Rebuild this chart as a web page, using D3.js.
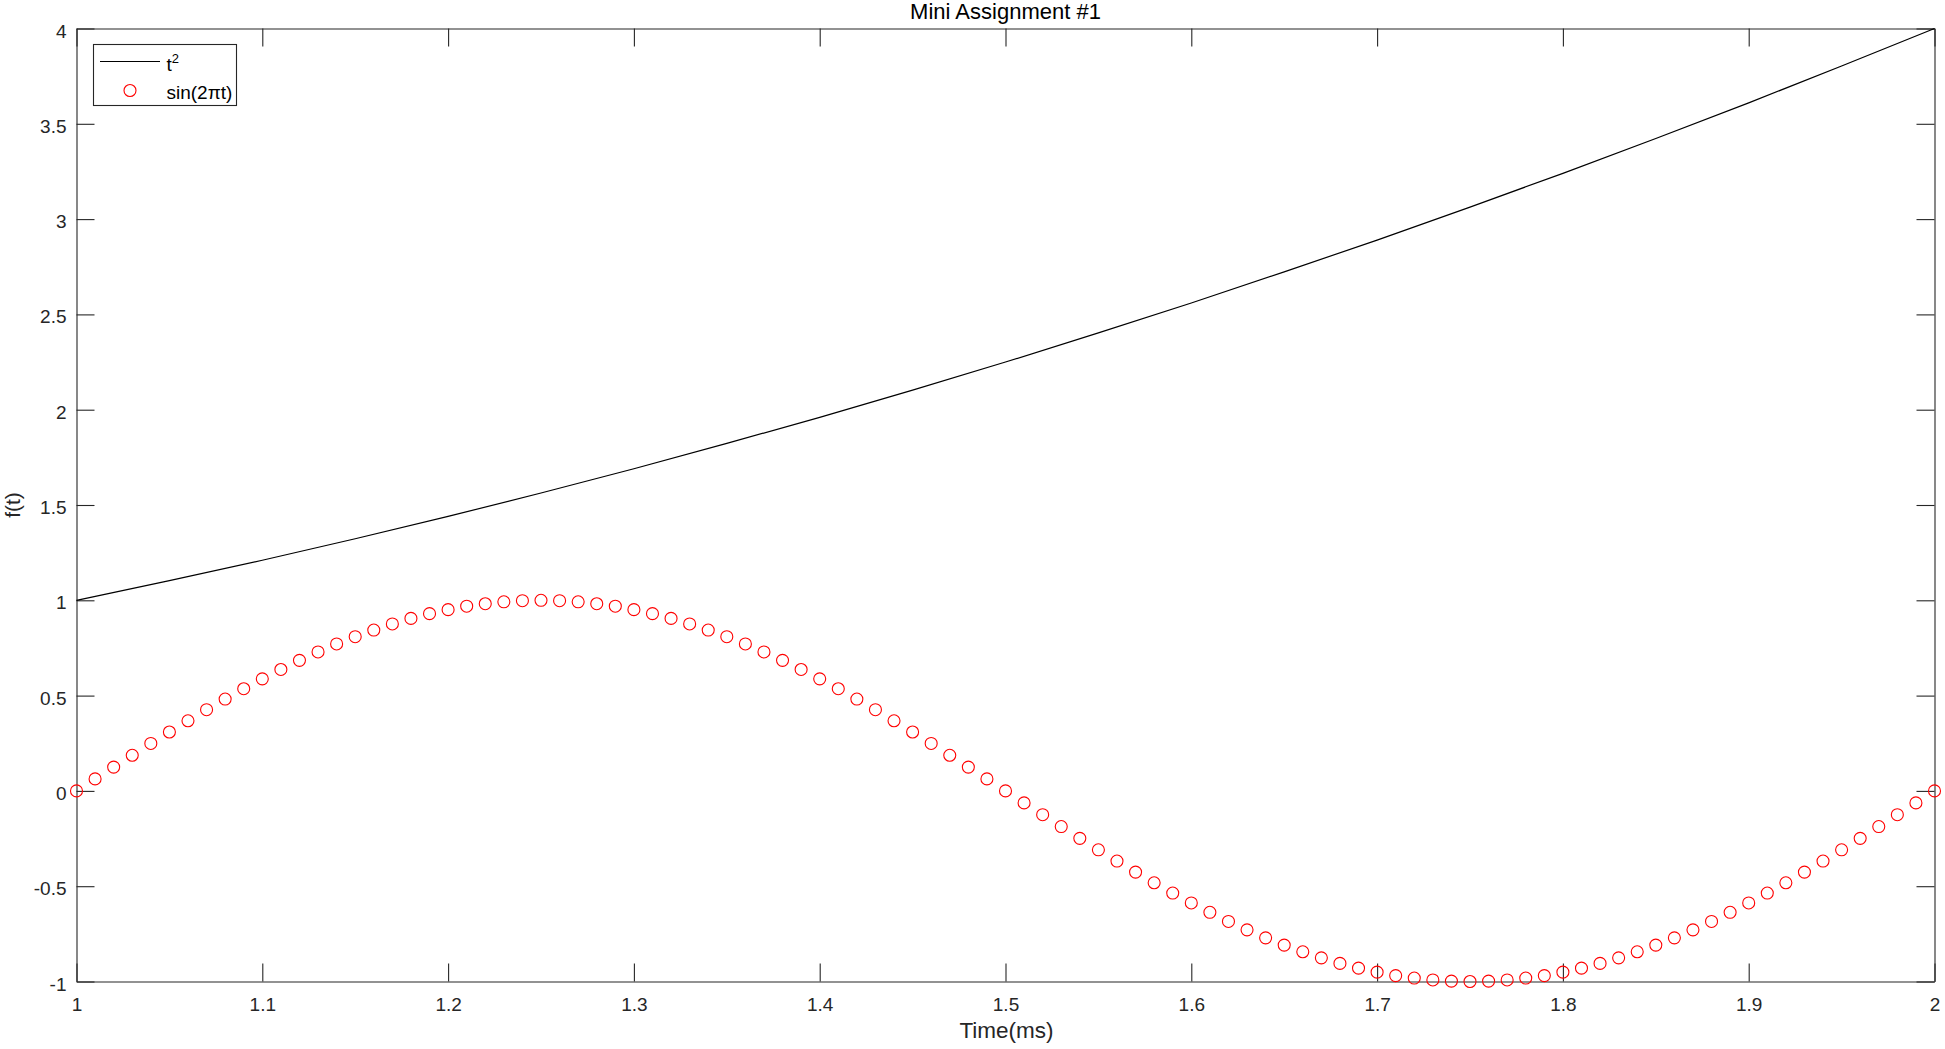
<!DOCTYPE html>
<html>
<head>
<meta charset="utf-8">
<script src="https://cdn.jsdelivr.net/npm/d3@7"></script>
<style>
  html, body { margin: 0; padding: 0; background: #fff; }
  svg { display: block; font-family: "Liberation Sans", Arial, Helvetica, sans-serif; }
</style>
</head>
<body>
<svg id="chart" width="1945" height="1049"></svg>
<script>
// ---- Data ----
const title = "Mini Assignment #1";
const xLabel = "Time(ms)";
const yLabel = "f(t)";
const xTicks = [1, 1.1, 1.2, 1.3, 1.4, 1.5, 1.6, 1.7, 1.8, 1.9, 2];
const yTicks = [-1, -0.5, 0, 0.5, 1, 1.5, 2, 2.5, 3, 3.5, 4];

// t^2 line samples
const lineT = [1.00, 1.05, 1.10, 1.15, 1.20, 1.25, 1.30, 1.35, 1.40, 1.45, 1.50,
               1.55, 1.60, 1.65, 1.70, 1.75, 1.80, 1.85, 1.90, 1.95, 2.00];
const lineY = [1.000, 1.103, 1.210, 1.323, 1.440, 1.563, 1.690, 1.823, 1.960, 2.103, 2.250,
               2.403, 2.560, 2.723, 2.890, 3.063, 3.240, 3.423, 3.610, 3.803, 4.000];

// sin(2πt) marker samples
const markT = [1.00, 1.01, 1.02, 1.03, 1.04, 1.05, 1.06, 1.07, 1.08, 1.09,
               1.10, 1.11, 1.12, 1.13, 1.14, 1.15, 1.16, 1.17, 1.18, 1.19,
               1.20, 1.21, 1.22, 1.23, 1.24, 1.25, 1.26, 1.27, 1.28, 1.29,
               1.30, 1.31, 1.32, 1.33, 1.34, 1.35, 1.36, 1.37, 1.38, 1.39,
               1.40, 1.41, 1.42, 1.43, 1.44, 1.45, 1.46, 1.47, 1.48, 1.49,
               1.50, 1.51, 1.52, 1.53, 1.54, 1.55, 1.56, 1.57, 1.58, 1.59,
               1.60, 1.61, 1.62, 1.63, 1.64, 1.65, 1.66, 1.67, 1.68, 1.69,
               1.70, 1.71, 1.72, 1.73, 1.74, 1.75, 1.76, 1.77, 1.78, 1.79,
               1.80, 1.81, 1.82, 1.83, 1.84, 1.85, 1.86, 1.87, 1.88, 1.89,
               1.90, 1.91, 1.92, 1.93, 1.94, 1.95, 1.96, 1.97, 1.98, 1.99, 2.00];
const markY = [0.000, 0.063, 0.125, 0.187, 0.249, 0.309, 0.368, 0.426, 0.482, 0.536,
               0.588, 0.637, 0.685, 0.729, 0.771, 0.809, 0.844, 0.876, 0.905, 0.930,
               0.951, 0.969, 0.982, 0.992, 0.998, 1.000, 0.998, 0.992, 0.982, 0.969,
               0.951, 0.930, 0.905, 0.876, 0.844, 0.809, 0.771, 0.729, 0.685, 0.637,
               0.588, 0.536, 0.482, 0.426, 0.368, 0.309, 0.249, 0.187, 0.125, 0.063,
               0.000, -0.063, -0.125, -0.187, -0.249, -0.309, -0.368, -0.426, -0.482, -0.536,
               -0.588, -0.637, -0.685, -0.729, -0.771, -0.809, -0.844, -0.876, -0.905, -0.930,
               -0.951, -0.969, -0.982, -0.992, -0.998, -1.000, -0.998, -0.992, -0.982, -0.969,
               -0.951, -0.930, -0.905, -0.876, -0.844, -0.809, -0.771, -0.729, -0.685, -0.637,
               -0.588, -0.536, -0.482, -0.426, -0.368, -0.309, -0.249, -0.187, -0.125, -0.063, 0.000];

const legendLabels = ["t", "sin(2\u03C0t)"];

// ---- Layout ----
const svg = d3.select("#chart");
const L = 76.5, R = 1934.5, T = 28.5, B = 981.5;
const axisColor = "#262626";
const tickLen = 18;

const x = d3.scaleLinear().domain([1, 2]).range([L, R]);
const y = d3.scaleLinear().domain([-1, 4]).range([B, T]);

svg.append("rect").attr("width", 1945).attr("height", 1049).attr("fill", "#fff");

const fmt = d => String(d);

// Bottom axis with labels, ticks inward
const gx = svg.append("g").attr("transform", `translate(0,${B})`)
  .call(d3.axisBottom(x).tickValues(xTicks).tickFormat(fmt)
        .tickSizeInner(-tickLen).tickSizeOuter(0).tickPadding(16));
// Left axis
const gy = svg.append("g").attr("transform", `translate(${L},0)`)
  .call(d3.axisLeft(y).tickValues(yTicks).tickFormat(fmt)
        .tickSizeInner(-tickLen).tickSizeOuter(0).tickPadding(10));
// Top axis (ticks only)
const gt = svg.append("g").attr("transform", `translate(0,${T})`)
  .call(d3.axisTop(x).tickValues(xTicks).tickFormat(() => "")
        .tickSizeInner(-tickLen).tickSizeOuter(0));
// Right axis (ticks only)
const gr = svg.append("g").attr("transform", `translate(${R},0)`)
  .call(d3.axisRight(y).tickValues(yTicks).tickFormat(() => "")
        .tickSizeInner(-tickLen).tickSizeOuter(0));

[gx, gy, gt, gr].forEach(g => {
  g.selectAll(".domain").attr("stroke", axisColor).attr("stroke-width", 1.1);
  g.selectAll(".tick line").attr("stroke", axisColor).attr("stroke-width", 1.1);
  g.selectAll(".tick text").attr("fill", axisColor)
    .style("font-size", "19px").style("font-family", "'Liberation Sans', Arial, sans-serif");
});
gy.selectAll(".tick text").attr("dy", "0.45em");

// t^2 line
const line = d3.line().x((d, i) => x(lineT[i])).y(d => y(d));
svg.append("path").datum(lineY)
  .attr("d", line)
  .attr("fill", "none").attr("stroke", "#000").attr("stroke-width", 1.2);

// sin markers
svg.append("g").selectAll("circle").data(markY).join("circle")
  .attr("cx", (d, i) => x(markT[i]))
  .attr("cy", d => y(d))
  .attr("r", 6)
  .attr("fill", "none").attr("stroke", "#ff0000").attr("stroke-width", 1.1);

// Title
svg.append("text").attr("x", (L + R) / 2).attr("y", 19)
  .attr("text-anchor", "middle").attr("fill", "#000")
  .style("font-size", "22px").text(title);

// X label
svg.append("text").attr("x", (L + R) / 2 + 1).attr("y", 1038)
  .attr("text-anchor", "middle").attr("fill", axisColor)
  .style("font-size", "22.5px").text(xLabel);

// Y label
svg.append("text").attr("transform", `translate(20,${(T + B) / 2}) rotate(-90)`)
  .attr("text-anchor", "middle").attr("fill", axisColor)
  .style("font-size", "21px").text(yLabel);

// Legend
const lg = svg.append("g");
lg.append("rect").attr("x", 93.5).attr("y", 44.5).attr("width", 143).attr("height", 61)
  .attr("fill", "#fff").attr("stroke", axisColor).attr("stroke-width", 1.1);
lg.append("line").attr("x1", 100).attr("x2", 160).attr("y1", 61.5).attr("y2", 61.5)
  .attr("stroke", "#000").attr("stroke-width", 1.2);
const t1 = lg.append("text").attr("x", 166.5).attr("y", 71).attr("fill", "#000")
  .style("font-size", "19px");
t1.append("tspan").text(legendLabels[0]);
t1.append("tspan").attr("dy", -8).style("font-size", "13px").text("2");
lg.append("circle").attr("cx", 130).attr("cy", 90.5).attr("r", 6)
  .attr("fill", "none").attr("stroke", "#ff0000").attr("stroke-width", 1.1);
lg.append("text").attr("x", 166.5).attr("y", 99).attr("fill", "#000")
  .style("font-size", "19px").text(legendLabels[1]);
</script>
</body>
</html>
